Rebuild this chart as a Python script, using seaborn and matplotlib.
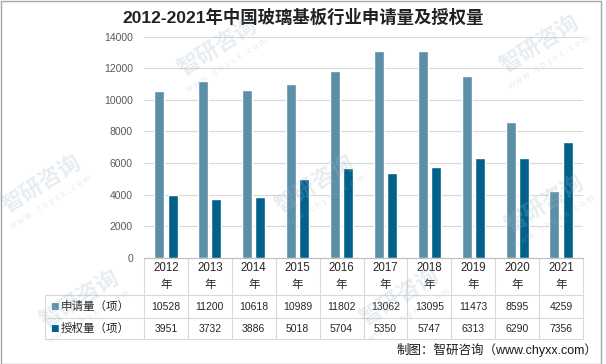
import numpy as np
import pandas as pd
import matplotlib
matplotlib.use('Agg')
import matplotlib.pyplot as plt
import seaborn as sns
from matplotlib.patches import Rectangle

years = ['2012', '2013', '2014', '2015', '2016', '2017', '2018', '2019', '2020', '2021']
apply_cnt = [10528, 11200, 10618, 10989, 11802, 13062, 13095, 11473, 8595, 4259]
grant_cnt = [3951, 3732, 3886, 5018, 5704, 5350, 5747, 6313, 6290, 7356]
series = ['申请量（项）', '授权量（项）']
colors = ['#5B8FA7', '#02618A']
yticks = [0, 2000, 4000, 6000, 8000, 10000, 12000, 14000]

df = pd.DataFrame({
    'year': years * 2,
    'value': apply_cnt + grant_cnt,
    'series': [series[0]] * len(years) + [series[1]] * len(years),
})

sns.set_theme(style='white')
plt.rcParams['font.family'] = ['Liberation Sans', 'Noto Sans CJK SC', 'DejaVu Sans']

W, H = 606, 364
fig = plt.figure(figsize=(W / 100, H / 100), dpi=100)
ax_h = 221.5
ax = fig.add_axes([144 / W, 1 - 258 / H, 439 / W, ax_h / H])

sns.barplot(data=df, x='year', y='value', hue='series', palette=colors,
            width=0.6, gap=0.24, saturation=1, legend=False, ax=ax, zorder=2)

ax.set_ylim(0, 14000)
ax.set_yticks(yticks)
ax.set_xlim(-0.5, len(years) - 0.5)
ax.set_xlabel('')
ax.set_ylabel('')
ax.yaxis.grid(True, color='#D9D9D9', lw=0.8)
ax.set_axisbelow(True)
for s in ['left', 'top', 'right']:
    ax.spines[s].set_visible(False)
ax.spines['bottom'].set_color('#BFBFBF')
ax.spines['bottom'].set_linewidth(0.8)
ax.tick_params(axis='x', length=0, labelbottom=False)
ax.tick_params(axis='y', length=0, pad=8, labelsize=7.5, labelcolor='#595959')

# data table under the axis
trans = ax.get_xaxis_transform()
px_cat = 439 / len(years)
def fr(ypx):
    return -(ypx - 258) / ax_h
def xd(xpx):
    return -0.5 + (xpx - 144) / px_cat

rows = [fr(258), fr(295), fr(318), fr(339)]
line_kw = dict(transform=trans, clip_on=False, color='#D9D9D9', lw=0.8)
for k in range(len(years) + 1):
    ax.plot([k - 0.5, k - 0.5], [rows[0], rows[3]], **line_kw)
for r in rows[1:]:
    ax.plot([xd(45), len(years) - 0.5], [r, r], **line_kw)
ax.plot([xd(45), xd(45)], [rows[1], rows[3]], **line_kw)

mid_cat = (rows[0] + rows[1]) / 2
mid1 = (rows[1] + rows[2]) / 2
mid2 = (rows[2] + rows[3]) / 2
for i, y in enumerate(years):
    ax.text(i, mid_cat, f'{y}\n年', transform=trans, ha='center', va='center',
            fontsize=8.3, linespacing=1.5, color='#262626')
    ax.text(i, mid1, str(apply_cnt[i]), transform=trans, ha='center', va='center',
            fontsize=7.5, color='#262626')
    ax.text(i, mid2, str(grant_cnt[i]), transform=trans, ha='center', va='center',
            fontsize=7.5, color='#262626')

for mid, name, c in zip([mid1, mid2], series, colors):
    ax.text(xd(54), mid, '■', transform=trans, ha='center', va='center',
            fontsize=6.5, color=c, family=['DejaVu Sans'])
    ax.text(xd(61), mid, name, transform=trans, ha='left', va='center',
            fontsize=8.3, color='#262626')

fig.text(0.5, 1 - 17 / H, '2012-2021年中国玻璃基板行业申请量及授权量',
         ha='center', va='center', fontsize=12.5, fontweight='bold', color='#222222')
fig.text(597 / W, 1 - 350 / H, '制图：智研咨询（www.chyxx.com）',
         ha='right', va='center', fontsize=9, color='#1a1a1a')

# faint watermark
marks = [(218, 48), (315, 185), (540, 45), (42, 185), (545, 205), (80, 300), (400, 298)]
for cx, cy in marks:
    fig.text(cx / W, 1 - cy / H, '智研咨询', rotation=32, ha='center', va='center',
             fontsize=16, fontweight='bold', color='#9fb3c6', alpha=0.24, zorder=10)
    fig.text((cx + 9) / W, 1 - (cy + 17) / H, 'w w w . c h y x x . c o m', rotation=32,
             ha='center', va='center', fontsize=6.5, color='#9fb3c6', alpha=0.26, zorder=10)

fig.add_artist(Rectangle((0.5 / W, 0.5 / H), 600 / W, 363 / H, fill=False,
                         edgecolor='#A6A6A6', lw=1, transform=fig.transFigure))

fig.savefig('out.png', dpi=100)
